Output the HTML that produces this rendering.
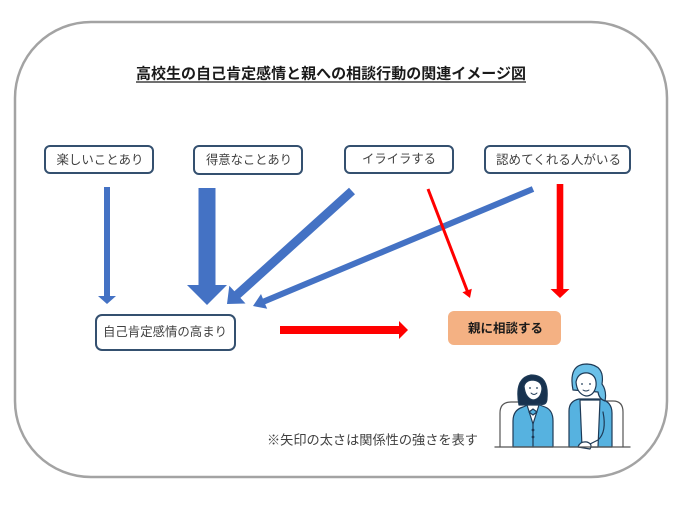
<!DOCTYPE html>
<html><head><meta charset="utf-8">
<style>
html,body{margin:0;padding:0;background:#fff;}
body{width:680px;height:510px;overflow:hidden;position:relative;}
svg{position:absolute;left:0;top:0;}
text{font-family:"Liberation Sans","Noto Sans CJK JP",sans-serif;}
</style></head>
<body>
<svg width="680" height="510" viewBox="0 0 680 510" xmlns="http://www.w3.org/2000/svg">
  <!-- frame -->
  <rect x="15" y="22" width="652" height="455" rx="76" ry="76" fill="#fff" stroke="#a3a3a3" stroke-width="2.5"/>

  <!-- title -->
  <text x="331" y="74" text-anchor="middle" dominant-baseline="central" font-size="15" font-weight="bold" fill="#1a1a1a" textLength="390" lengthAdjust="spacingAndGlyphs">高校生の自己肯定感情と親への相談行動の関連イメージ図</text>
  <line x1="136" y1="82" x2="526" y2="82" stroke="#1a1a1a" stroke-width="1.2"/>

  <!-- boxes -->
  <g fill="#fff" stroke="#34506f" stroke-width="2">
    <rect x="45" y="146" width="108" height="27" rx="5"/>
    <rect x="194" y="146" width="108" height="28" rx="5"/>
    <rect x="345" y="146" width="108" height="27" rx="5"/>
    <rect x="485" y="146" width="145" height="27" rx="5"/>
    <rect x="96" y="315" width="139" height="35" rx="6"/>
  </g>
  <rect x="448" y="311" width="113" height="34" rx="6" fill="#F4B183"/>

  <g font-size="12.5" fill="#404040" dominant-baseline="central" text-anchor="middle">
    <text x="100" y="160" textLength="87" lengthAdjust="spacingAndGlyphs">楽しいことあり</text>
    <text x="249" y="160" textLength="86" lengthAdjust="spacingAndGlyphs">得意なことあり</text>
    <text x="399" y="159" textLength="74" lengthAdjust="spacingAndGlyphs">イライラする</text>
    <text x="558.5" y="160" textLength="125" lengthAdjust="spacingAndGlyphs">認めてくれる人がいる</text>
    <text x="165" y="332" textLength="124" lengthAdjust="spacingAndGlyphs">自己肯定感情の高まり</text>
    <text x="505.5" y="328.5" textLength="75" lengthAdjust="spacingAndGlyphs" font-weight="bold" fill="#1a1a1a">親に相談する</text>
  </g>

  <!-- blue arrows -->
  <g fill="#4472C4">
    <polygon points="104,187 110,187 110,296 116,296 107,304 98,296 104,296"/>
    <polygon points="198.5,188 215.5,188 215.5,285 227,285 207,305 187,285 198.5,285"/>
    <polygon points="349.0,187.7 234.4,291.3 229.3,285.7 227,304 245.5,303.5 240.4,297.9 355.0,194.3"/>
    <polygon points="531.8,186.2 262.9,298.6 261.0,294.0 253,306 267.2,308.8 265.2,304.2 534.2,191.8"/>
  </g>

  <!-- red arrows -->
  <g fill="#FF0000">
    <polygon points="426.6,189.5 465.7,291.1 462.4,292.3 470,298 471.8,288.7 468.5,290.0 429.4,188.5"/>
    <polygon points="556.7,184 563.3,184 563.3,289 569.5,289 560,298 550.5,289 556.7,289"/>
    <polygon points="280,326 399,326 399,321 408,330 399,339 399,334 280,334"/>
  </g>

  <!-- note -->
  <text x="372.5" y="440" text-anchor="middle" dominant-baseline="central" font-size="13" fill="#404040" textLength="211" lengthAdjust="spacingAndGlyphs">※矢印の太さは関係性の強さを表す</text>

  <!-- illustration -->
  <g stroke="#1e3a56" stroke-width="1.2" stroke-linejoin="round" stroke-linecap="round">
    <!-- chairs -->
    <path d="M500 447 V413 Q500 402 511 402 H522" fill="none" stroke="#555"/>
    <path d="M604 401 H613 Q623 401 623 412 V447" fill="none" stroke="#555"/>
    <!-- girl body -->
    <path d="M513 447 V421 Q513 410 523 407 L530 404 L537 404 L545 407 Q553 410 553 421 V447 Z" fill="#56b2e0"/>
    <path d="M527 405 L533 424 L539 405 Z" fill="#fff"/>
    <path d="M529 412 L533 409 L537 412 L533 415 Z" fill="#56b2e0"/>
    <line x1="533" y1="424" x2="533" y2="447"/>
    <circle cx="533" cy="430" r="0.8" fill="#1e3a56"/>
    <circle cx="533" cy="437" r="0.8" fill="#1e3a56"/>
    <!-- girl hair -->
    <path d="M519 405 Q514 378 531 375 Q549 375 547 398 Q547 406 540 404 L526 405 Z" fill="#17324f"/>
    <!-- girl face -->
    <path d="M524 386 Q526 380 533 380 Q542 381 542 389 Q541 399 533 400 Q525 398 524 386 Z" fill="#fff"/>
    <circle cx="530" cy="388" r="0.9" fill="#1e3a56" stroke="none"/>
    <circle cx="537" cy="388" r="0.9" fill="#1e3a56" stroke="none"/>
    <path d="M531 393 Q534 396 537 393" fill="#fff" stroke-width="0.9"/>
    <!-- woman body -->
    <path d="M569 447 V411 Q569 401 579 399 L601 399 Q612 402 612 413 V447 Z" fill="#56b2e0"/>
    <path d="M580 400 L600 400 L598 447 L582 447 Z" fill="#fff"/>
    <path d="M603 412 Q607 432 598 440 L588 445" fill="none"/>
    <path d="M578 447 Q580 441 587 442 Q593 444 590 449 Z" fill="#fff"/>
    <!-- woman hair -->
    <path d="M573 390 Q568 364 587 364 Q605 365 602 384 Q607 391 605 401 Q599 399 598 392 Z" fill="#6ac0e8"/>
    <!-- woman face -->
    <path d="M576 382 Q578 372 588 373 Q597 375 596 386 Q594 396 586 396 Q577 394 576 382 Z" fill="#fff"/>
    <circle cx="582" cy="384" r="0.9" fill="#1e3a56" stroke="none"/>
    <circle cx="590" cy="384" r="0.9" fill="#1e3a56" stroke="none"/>
    <path d="M583 390 Q586 392 589 390" fill="none" stroke-width="0.9"/>
    <!-- table line -->
    <line x1="495" y1="447" x2="630" y2="447" stroke="#555" stroke-width="1.3"/>
  </g>
</svg>
</body></html>
